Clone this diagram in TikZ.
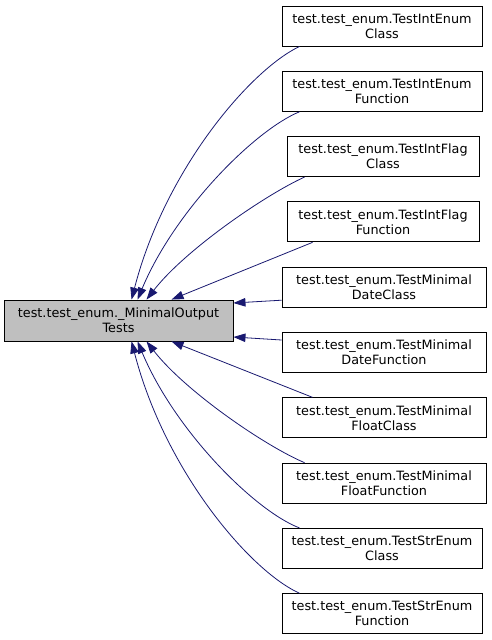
\documentclass[tikz,border=0pt]{standalone}
\usepackage{fontspec}
\setmainfont{DejaVu Sans}
\usetikzlibrary{arrows.meta}
\definecolor{EdgeBlue}{RGB}{25,25,112}
\definecolor{BaseGray}{RGB}{191,191,191}
\tikzset{
  cls/.style={draw=black, line width=0.9pt, fill=white, minimum height=40pt, inner sep=0pt,
    align=center, font=\fontsize{12.8}{15}\selectfont},
  basecls/.style={cls, fill=BaseGray, minimum height=41pt},
  inh/.style={{Triangle[length=12pt,width=8.5pt]}-, EdgeBlue, line width=0.8pt},
}
\begin{document}
\begin{tikzpicture}[x=1pt, y=-1pt]
  \useasboundingbox (0,0) rectangle (492,640);
  % base class
  \node[basecls, minimum width=229pt] (mot) at (118.5,320.5) {test.test\_enum.\_MinimalOutput\\Tests};
  % derived classes
  \node[cls, minimum width=200pt] (c1) at (382,26) {test.test\_enum.TestIntEnum\\Class};
  \node[cls, minimum width=200pt] (c2) at (382,91.3) {test.test\_enum.TestIntEnum\\Function};
  \node[cls, minimum width=192pt] (c3) at (383,156.6) {test.test\_enum.TestIntFlag\\Class};
  \node[cls, minimum width=192pt] (c4) at (383,221.9) {test.test\_enum.TestIntFlag\\Function};
  \node[cls, minimum width=204pt] (c5) at (384,287.2) {test.test\_enum.TestMinimal\\DateClass};
  \node[cls, minimum width=204pt] (c6) at (384,352.5) {test.test\_enum.TestMinimal\\DateFunction};
  \node[cls, minimum width=204pt] (c7) at (384,417.8) {test.test\_enum.TestMinimal\\FloatClass};
  \node[cls, minimum width=204pt] (c8) at (384,483.1) {test.test\_enum.TestMinimal\\FloatFunction};
  \node[cls, minimum width=200pt] (c9) at (382,548.4) {test.test\_enum.TestStrEnum\\Class};
  \node[cls, minimum width=200pt] (c10) at (382,613.7) {test.test\_enum.TestStrEnum\\Function};
  % inheritance edges
  \draw[inh] ([xshift=128pt]mot.north west) .. controls (165,170) and (250,70) .. ([xshift=18pt]c1.south west);
  \draw[inh] ([xshift=134pt]mot.north west) .. controls (175,210) and (255,130) .. ([xshift=18pt]c2.south west);
  \draw[inh] ([xshift=143pt]mot.north west) .. controls (185,250) and (265,195) .. ([xshift=18pt]c3.south west);
  \draw[inh] ([xshift=168pt]mot.north west) -- ([xshift=26pt]c4.south west);
  \draw[inh] ([yshift=17.5pt]mot.east) -- ([yshift=-13pt]c5.west);
  \draw[inh] ([yshift=-16.5pt]mot.east) -- ([yshift=12.5pt]c6.west);
  \draw[inh] ([xshift=168pt]mot.south west) -- ([xshift=31pt]c7.north west);
  \draw[inh] ([xshift=143pt]mot.south west) .. controls (185,391) and (265,446) .. ([xshift=23pt]c8.north west);
  \draw[inh] ([xshift=134pt]mot.south west) .. controls (175,431) and (255,511) .. ([xshift=18pt]c9.north west);
  \draw[inh] ([xshift=128pt]mot.south west) .. controls (165,471) and (250,571) .. ([xshift=18pt]c10.north west);
\end{tikzpicture}
\end{document}
